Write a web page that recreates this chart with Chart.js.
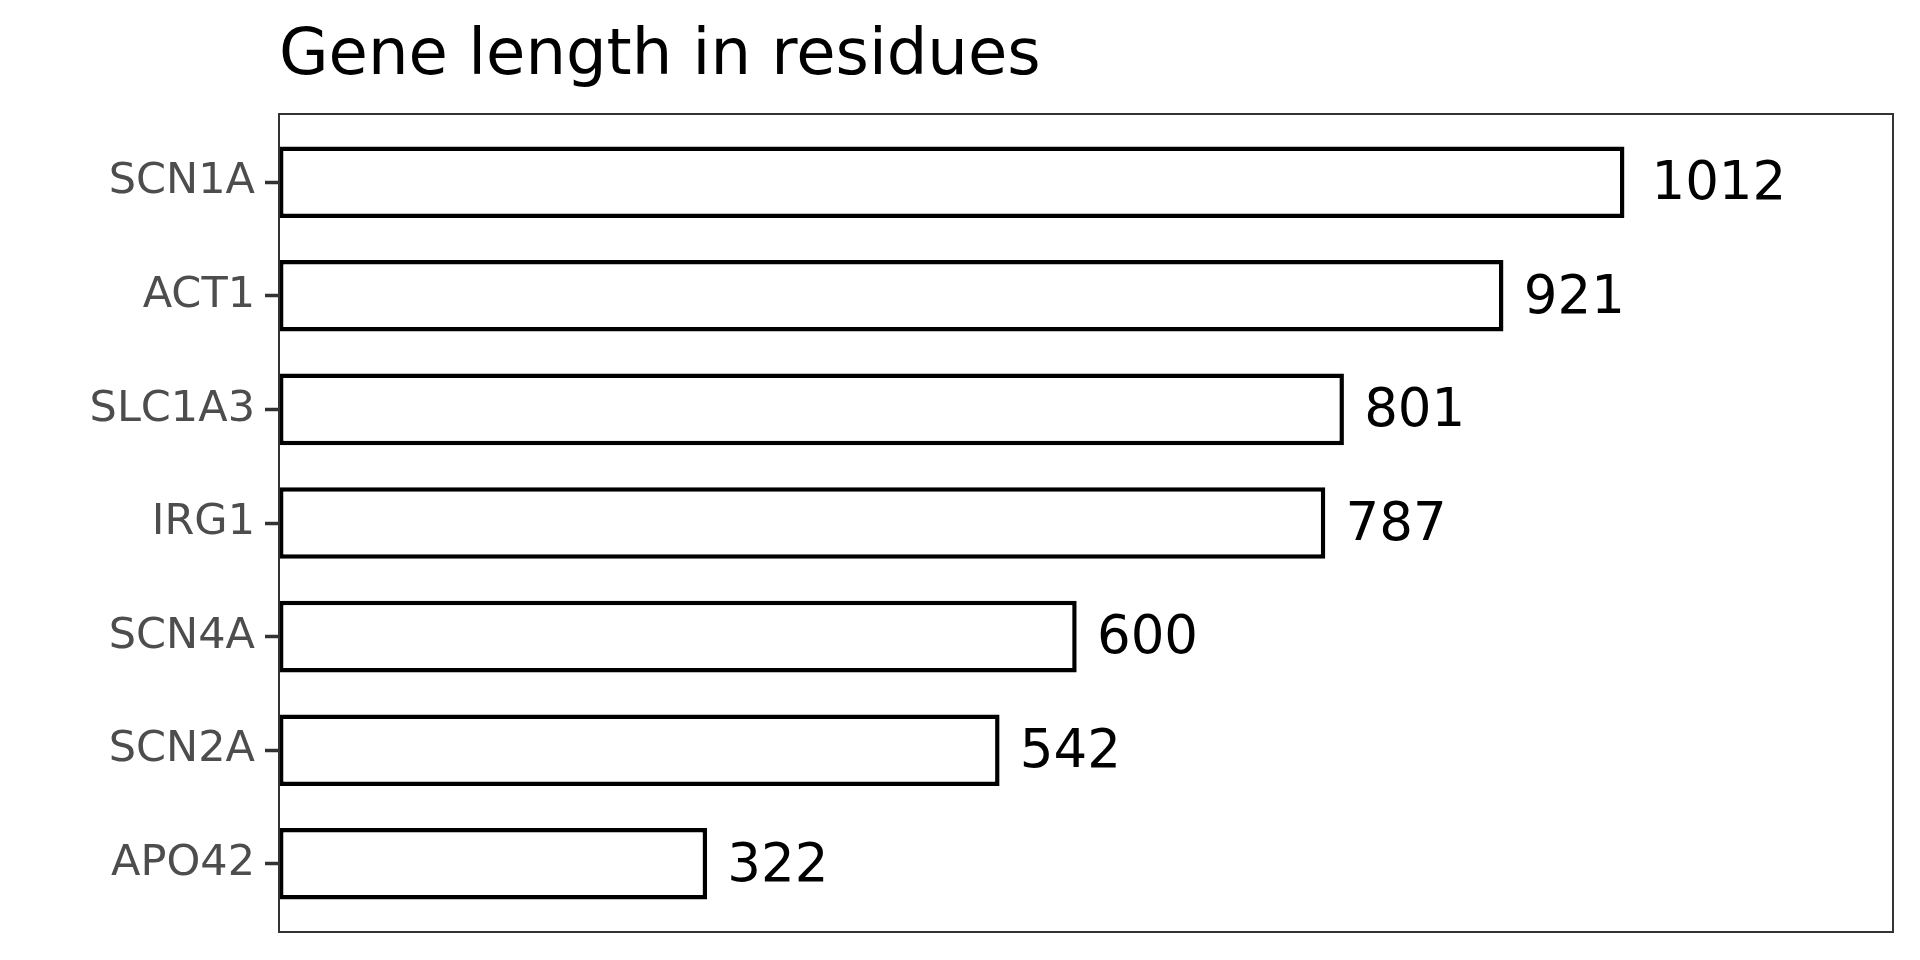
<!DOCTYPE html>
<html>
<head>
<meta charset="utf-8">
<script src="https://cdn.jsdelivr.net/npm/chart.js@4/dist/chart.umd.min.js"></script>
<style>
html,body{margin:0;padding:0;background:#fff;}
#wrap{width:1920px;height:960px;position:relative;}
</style>
</head>
<body>
<div id="wrap"><canvas id="c" width="1920" height="960"></canvas></div>
<script>
const chartTitle = "Gene length in residues";
const genes = ["SCN1A", "ACT1", "SLC1A3", "IRG1", "SCN4A", "SCN2A", "APO42"];
const residues = [1012, 921, 801, 787, 600, 542, 322];
const xMax = 1214;

const FONT = "'DejaVu Sans', 'Liberation Sans', sans-serif";

const titlePlugin = {
  id: 'leftTitle',
  afterDraw(chart) {
    const ctx = chart.ctx;
    ctx.save();
    ctx.font = '64px ' + FONT;
    ctx.fillStyle = '#000';
    ctx.textAlign = 'left';
    ctx.textBaseline = 'alphabetic';
    ctx.fillText(chartTitle, chart.chartArea.left, 74);
    ctx.restore();
  }
};

const panelBorder = {
  id: 'panelBorder',
  afterDraw(chart) {
    const a = chart.chartArea, ctx = chart.ctx;
    ctx.save();
    ctx.strokeStyle = '#333333';
    ctx.lineWidth = 2;
    ctx.strokeRect(a.left, a.top, a.right - a.left, a.bottom - a.top);
    ctx.restore();
  }
};

const valueLabels = {
  id: 'valueLabels',
  afterDatasetsDraw(chart) {
    const ctx = chart.ctx;
    const meta = chart.getDatasetMeta(0);
    ctx.save();
    ctx.font = '53px ' + FONT;
    ctx.fillStyle = '#000';
    ctx.textAlign = 'left';
    ctx.textBaseline = 'middle';
    meta.data.forEach((bar, i) => {
      const txt = String(residues[i]);
      const w = ctx.measureText(txt).width;
      ctx.fillText(txt, bar.x + 0.2 * w, bar.y + 3);
    });
    ctx.restore();
  }
};

new Chart(document.getElementById('c'), {
  type: 'bar',
  data: {
    datasets: [{
      data: residues.map((v, i) => ({ x: v, y: i })),
      backgroundColor: '#ffffff',
      borderColor: '#000000',
      borderWidth: 4.5,
      borderSkipped: false,
      barPercentage: 0.63,
      categoryPercentage: 1.0
    }]
  },
  options: {
    indexAxis: 'y',
    responsive: false,
    animation: false,
    layout: { padding: { left: 0, top: 114, right: 27, bottom: 28 } },
    plugins: {
      legend: { display: false },
      title: { display: false },
      tooltip: { enabled: false }
    },
    scales: {
      x: {
        type: 'linear',
        min: 0,
        max: xMax,
        display: false
      },
      y: {
        type: 'linear',
        min: -0.6,
        max: 6.6,
        reverse: true,
        offset: false,
        afterBuildTicks(axis) {
          axis.ticks = genes.map((g, i) => ({ value: i }));
        },
        afterFit(axis) {
          axis.width = 279;
          axis.paddingTop = 0;
          axis.paddingBottom = 0;
        },
        border: { display: false },
        grid: {
          offset: false,
          drawOnChartArea: false,
          drawTicks: true,
          tickLength: 14,
          tickWidth: 3.5,
          tickColor: '#333333'
        },
        ticks: {
          padding: 10,
          color: '#4d4d4d',
          font: { family: FONT, size: 43 },
          callback: (v) => genes[Math.round(v)] ?? ''
        }
      }
    }
  },
  plugins: [titlePlugin, panelBorder, valueLabels]
});
</script>
</body>
</html>
